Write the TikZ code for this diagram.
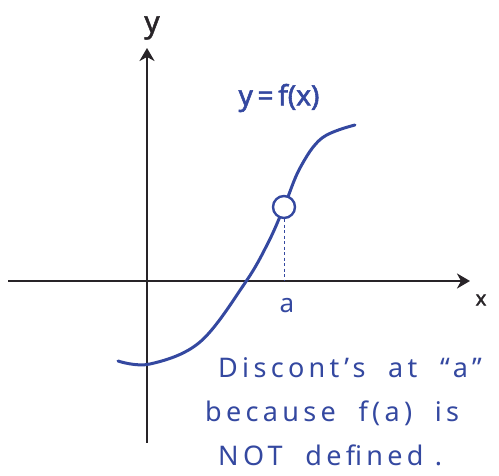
\documentclass[tikz,border=0pt]{standalone}
\usepackage{fontspec}
\setmainfont{Noto Sans}
\usetikzlibrary{arrows.meta}
\definecolor{ink}{RGB}{52,72,160}
\definecolor{pen}{RGB}{40,36,40}
\tikzset{
  axis/.style={draw=pen, line width=2.2pt, -{Stealth[length=13pt,width=15pt,inset=4pt]}},
  curve/.style={draw=ink, line width=3pt, line cap=round},
  hole/.style={circle, draw=ink, line width=2.4pt, fill=white, minimum size=22pt, inner sep=0pt},
  guide/.style={draw=ink, line width=0.8pt, dash pattern=on 3pt off 2.5pt},
  note/.style={text=ink, font=\fontsize{27}{32}\selectfont\addfontfeature{LetterSpace=16}, anchor=base west, inner sep=0pt},
  lbl/.style={font=\fontsize{24}{28}\selectfont, inner sep=0pt},
}
\begin{document}
\begin{tikzpicture}[x=1pt,y=-1pt]
\useasboundingbox (0,0) rectangle (499,476);
\coordinate (xs) at (8,281);
\coordinate (xe) at (470,281);
\coordinate (ys) at (147,443);
\coordinate (ye) at (147,48);
\draw[axis] (xs) -- (xe);
\draw[axis] (ys) -- (ye);
\node[lbl, text=pen, font=\fontsize{30}{34}\selectfont\addfontfeature{FakeBold=1.5}] (ylab) at (152,28) {y};
\node[lbl, text=pen, font=\fontsize{20}{24}\selectfont\addfontfeature{FakeBold=2}] (xlab) at (481,300) {x};
\draw[curve] plot[smooth, tension=0.6] coordinates {(118,361) (150,364) (200,342) (245,283) (268,243) (284,207) (300,168) (322,138) (355,125)};
\node[hole] (h) at (284,207) {};
\coordinate (a0) at (284,281);
\draw[guide] (h.south) -- (a0);
\node[lbl, text=ink, font=\fontsize{26}{30}\selectfont] (alab) at (287,306) {a};
\node[lbl, text=ink, font=\fontsize{28}{32}\selectfont\addfontfeature{FakeBold=2}] (flab) at (279,98) {y\,=\,f(x)};
\node[note] (n1) at (218,378) {Discont’s\ \ at\ \ “a”};
\node[note] (n2) at (205,422) {because\ \ f(a)\ \ is};
\node[note] (n3) at (218,466) {NOT\ \ defined\ .};
\end{tikzpicture}
\end{document}
